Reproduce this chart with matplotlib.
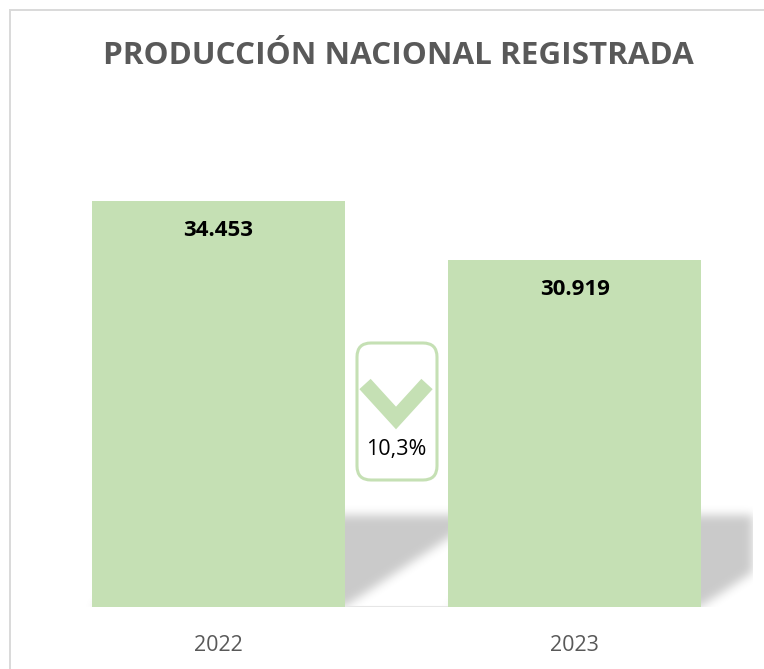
import numpy as np
import matplotlib
matplotlib.use("Agg")
import matplotlib.pyplot as plt
from matplotlib.patches import FancyBboxPatch, Rectangle

# data
years = ["2022", "2023"]
produccion = [34453, 30919]

green = "#C5E0B4"
gray_txt = "#595959"
plt.rcParams['font.family'] = ['Open Sans', 'DejaVu Sans']

fig = plt.figure(figsize=(7.64, 6.69), dpi=100)
fig.patch.set_facecolor("white")

# chart border (only top and left visible, the rest is cut off)
fig.patches.append(Rectangle((10 / 764, -0.2), 1.2, 1 - 10 / 669 + 0.2,
                             transform=fig.transFigure, fill=False,
                             edgecolor="#D9D9D9", linewidth=1.4))

ax = fig.add_axes([40 / 764, 1 - 607 / 669, 713 / 764, 498 / 669])
ymin, ymax = 10000, 40000
x = np.arange(len(years))
bar_w = 0.71

# soft perspective shadow behind the bars
nx, ny = 713, 498
gx = np.linspace(-0.5, 1.5, nx)
gy = np.linspace(ymin, ymax, ny)
X, Y = np.meshgrid(gx, gy)
sh_top = ymin + (ymax - ymin) * 92 / 498
skew = 0.39
h = (Y - ymin) / (sh_top - ymin)
mask = np.zeros_like(X)
for xi in x:
    L = xi - bar_w / 2 + h * skew
    R = xi + bar_w / 2 + h * skew
    mask[(h >= 0) & (h <= 1) & (X >= L) & (X <= R)] = 1.0
k = np.exp(-0.5 * (np.arange(-12, 13) / 5.0) ** 2)
k /= k.sum()
mask = np.apply_along_axis(lambda r: np.convolve(r, k, mode="same"), 1, mask)
mask = np.apply_along_axis(lambda c: np.convolve(c, k, mode="same"), 0, mask)
img = np.zeros((ny, nx, 4))
img[..., 3] = mask * 0.21
ax.imshow(img, extent=(-0.5, 1.5, ymin, ymax), origin="lower", aspect="auto",
          zorder=1, interpolation="bilinear")

ax.bar(x, produccion, width=bar_w, bottom=0, color=green, zorder=2)
ax.hlines(ymin, x[0] - bar_w / 2, x[-1] + bar_w / 2, color="#E6E6E6", lw=1.5, zorder=1.5)

for xi, v in zip(x, produccion):
    lab = f"{v:,}".replace(",", ".")
    ax.text(xi, v - 1150, lab, ha="center", va="top", fontsize=16,
            fontweight="bold", color="black", zorder=3)

ax.set_xlim(-0.5, 1.5)
ax.set_ylim(ymin, ymax)
ax.set_xticks(x)
ax.set_xticklabels(years, fontsize=15.5, color=gray_txt)
ax.tick_params(axis="x", length=0, pad=20)
ax.set_yticks([])
for s in ax.spines.values():
    s.set_visible(False)
ax.patch.set_alpha(0)

fig.text(398 / 764, 1 - 56 / 669, "PRODUCCIÓN NACIONAL REGISTRADA",
         ha="center", va="center", fontsize=22.6, fontweight="bold", color=gray_txt)

# variation badge between the bars
var = (produccion[0] - produccion[1]) / produccion[0] * 100
bx = fig.add_axes([352 / 764, 1 - 484 / 669, 89 / 764, 145 / 669])
bx.set_xlim(0, 89)
bx.set_ylim(0, 145)
bx.axis("off")
bx.add_patch(FancyBboxPatch((5, 4), 80, 137, boxstyle="round,pad=0,rounding_size=14",
                            facecolor="white", edgecolor=green, linewidth=2.2))
bx.plot([13, 44, 75], [100, 66, 100], color=green, lw=11, solid_capstyle="butt",
        solid_joinstyle="miter")
bx.text(44, 34, f"{var:.1f}%".replace(".", ","), ha="center", va="center",
        fontsize=15.5, color="black")

fig.savefig("out.png", dpi=100)
